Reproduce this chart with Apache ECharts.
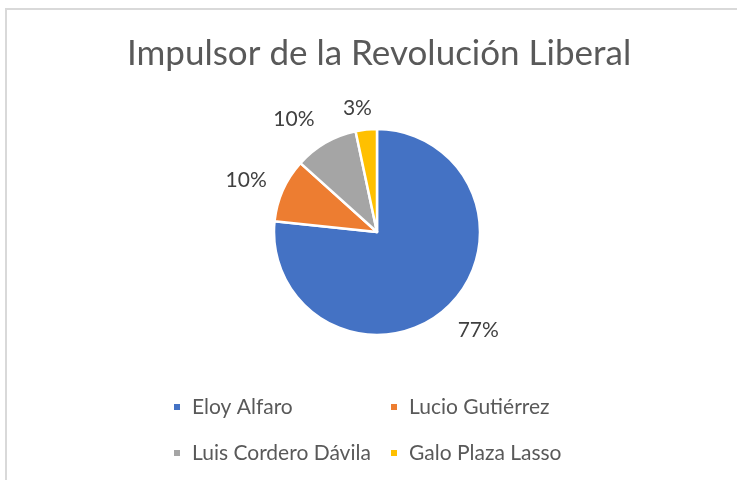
<!DOCTYPE html>
<html>
<head>
<meta charset="utf-8">
<script src="https://cdn.jsdelivr.net/npm/echarts@6/dist/echarts.min.js"></script>
<style>
    html, body { margin: 0; padding: 0; background: #fff; }
    #chart { position: absolute; left: 0; top: 0; width: 737px; height: 480px; }
    #frame {
        position: absolute; left: 5px; top: 8px; width: 740px; height: 480px;
        border-top: 2px solid #d9d9d9; border-left: 2px solid #d9d9d9;
        pointer-events: none;
    }
</style>
</head>
<body>
<div id="chart"></div>
<div id="frame"></div>
<script>
const titleText = 'Impulsor de la Revolución Liberal';
const names = ['Eloy Alfaro', 'Lucio Gutiérrez', 'Luis Cordero Dávila', 'Galo Plaza Lasso'];
const values = [23, 3, 3, 1];
const colors = ['#4472C4', '#ED7D31', '#A5A5A5', '#FFC000'];

// small nudges so the "best fit" labels sit where Excel put them
const labelNudge = [[-8, 5], [9, -1], [5, -5], [13, 1]];

document.addEventListener('DOMContentLoaded', () => {
    const myChart = echarts.init(document.getElementById('chart'));

    const option = {
        backgroundColor: '#ffffff',
        animation: false,
        textStyle: { fontFamily: 'Lato' },
        title: {
            text: titleText,
            left: 122,
            top: 31,
            textStyle: {
                fontFamily: 'Lato',
                fontWeight: 'normal',
                fontSize: 35,
                color: '#595959'
            }
        },
        legend: {
            data: names,
            left: 172,
            top: 391,
            width: 420,
            padding: 0,
            icon: 'rect',
            itemWidth: 8,
            itemHeight: 8,
            itemGap: 14,
            textStyle: {
                fontFamily: 'Lato',
                fontSize: 21,
                color: '#595959',
                width: 183,
                lineHeight: 32,
                padding: [0, 0, 0, 6]
            }
        },
        series: [
            {
                type: 'pie',
                center: [377, 232],
                radius: 103,
                startAngle: 90,
                clockwise: true,
                avoidLabelOverlap: false,
                data: names.map((name, i) => ({
                    name,
                    value: values[i],
                    itemStyle: { color: colors[i] }
                })),
                itemStyle: {
                    borderColor: '#ffffff',
                    borderWidth: 2.5
                },
                label: {
                    show: true,
                    position: 'outside',
                    formatter: p => Math.round(p.percent) + '%',
                    fontFamily: 'Lato',
                    fontSize: 21,
                    color: '#404040'
                },
                labelLine: {
                    show: false,
                    length: 22,
                    length2: 0
                },
                labelLayout: params => ({
                    dx: labelNudge[params.dataIndex][0],
                    dy: labelNudge[params.dataIndex][1]
                }),
                emphasis: { disabled: true }
            }
        ]
    };

    myChart.setOption(option);

    window.addEventListener('resize', () => {
        myChart.resize();
    });
});
</script>
</body>
</html>
